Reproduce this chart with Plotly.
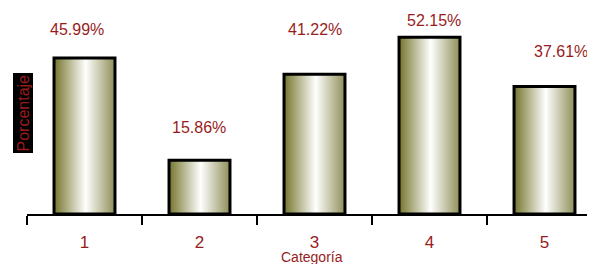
import plotly.graph_objects as go

categories = ["1", "2", "3", "4", "5"]
values = [45.99, 15.86, 41.22, 52.15, 37.61]
value_labels = ["45.99%", "15.86%", "41.22%", "52.15%", "37.61%"]

# label placement (pixel x offsets, y in axis units)
label_dx = [-8, -1, 0, 4, 16]
label_y = [54.3, 25.4, 54.3, 57.2, 47.8]

RED = "#981c1c"
FONT = "Liberation Sans, Arial, sans-serif"
half = 0.265
PXU = 3.39  # pixels per percent

fig = go.Figure()
for i, (c, v) in enumerate(zip(categories, values)):
    xc = i + 1
    fig.add_trace(go.Scatter(
        x=[xc - half, xc - half, xc + half, xc + half, xc - half],
        y=[0, v, v, 0, 0],
        mode="lines",
        fill="toself",
        fillgradient=dict(type="horizontal",
                          colorscale=[[0, "#74742c"], [0.52, "#ffffff"], [1, "#8e8e58"]]),
        line=dict(color="black", width=3),
        hoverinfo="skip",
        showlegend=False,
    ))

for i, (lbl, ly, dx) in enumerate(zip(value_labels, label_y, label_dx)):
    fig.add_annotation(x=i + 1, y=ly, text=lbl, showarrow=False, xshift=dx,
                       font=dict(family=FONT, size=16, color=RED))

# page body has an 8px margin: figure is placed at (8, 8) in the window
plot_h = 206
fig.add_annotation(xref="paper", yref="paper", x=0, y=(214 - 113) / plot_h, xshift=-4.5,
                   xanchor="center", yanchor="middle",
                   text="Porcentaje", textangle=-90, showarrow=False,
                   bgcolor="black", borderpad=1,
                   font=dict(family=FONT, size=16, color=RED))
fig.add_annotation(xref="paper", yref="paper", x=(312 - 27) / 568, y=(214 - 257) / plot_h,
                   xanchor="center", yanchor="middle",
                   text="Categoría", showarrow=False,
                   font=dict(family=FONT, size=14, color=RED))

fig.update_layout(
    width=587, height=256,
    margin=dict(l=19, r=0, t=0, b=50),
    paper_bgcolor="white", plot_bgcolor="white",
    xaxis=dict(range=[0.5, 0.5 + 568 / 115], tickvals=[1, 2, 3, 4, 5], ticktext=categories,
               ticks="", showgrid=False, zeroline=False, showline=True,
               linecolor="black", linewidth=2, ticklabelstandoff=12,
               tickfont=dict(family=FONT, size=17, color=RED),
               minor=dict(tickvals=[0.5, 1.5, 2.5, 3.5, 4.5], ticks="outside",
                          ticklen=9, tickwidth=2, tickcolor="black")),
    yaxis=dict(range=[0, plot_h / PXU], visible=False),
)

fig.write_html("out.html")
